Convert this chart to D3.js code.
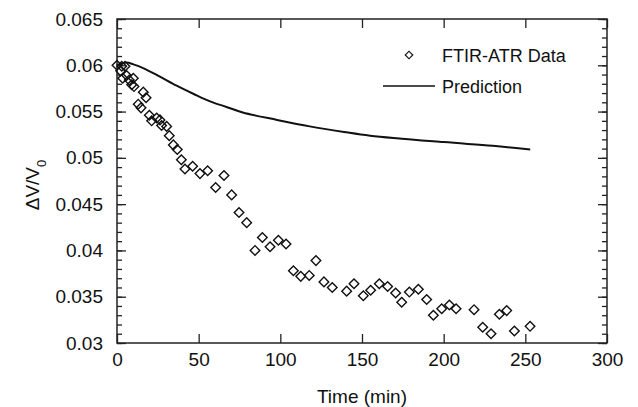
<!DOCTYPE html>
<html>
<head>
<meta charset="utf-8">
<script src="https://cdn.jsdelivr.net/npm/d3@7"></script>
<style>
  body { margin: 0; background: #fff; }
  text { font-family: "Liberation Sans", Arial, sans-serif; fill: #111; }
</style>
</head>
<body>
<div id="chart"></div>
<script>
// FTIR-ATR measurements (time in min, dV/V0)
var dataTime = [0, 2.9, 4.9, 2.2, 3.5, 5.9, 7.5, 10, 9, 10.4, 16.1, 17.8, 13, 14.7, 19.8, 21.2,
  24.3, 26.3, 27.3, 30.4, 32, 34.5, 36.9, 39.4, 41.6, 46.3, 50.8, 55.5, 60.4, 65.5, 70.2,
  74.7, 79.4, 84.5, 89, 93.7, 98.8, 103.5, 108, 112.5, 117.7, 121.8, 126.7, 131.8, 140.6,
  145.1, 150.8, 155.3, 160.6, 165.7, 170.6, 174.3, 179, 184.5, 189.6, 193.7, 198.8, 203.5,
  207.6, 218.6, 223.9, 229, 234.1, 238.6, 243.3, 252.9];
var dataValue = [0.0600, 0.0599, 0.0599, 0.0594, 0.0586, 0.0589, 0.0584, 0.0586, 0.0579, 0.0577,
  0.0571, 0.0565, 0.0558, 0.0554, 0.0546, 0.0540, 0.0543, 0.0541, 0.0535, 0.0534, 0.0524,
  0.0514, 0.0509, 0.0498, 0.0488, 0.0491, 0.0483, 0.0486, 0.0468, 0.0481, 0.0460, 0.0441,
  0.0430, 0.0400, 0.0414, 0.0404, 0.0411, 0.0407, 0.0378, 0.0372, 0.0373, 0.0389, 0.0366,
  0.0360, 0.0356, 0.0364, 0.0351, 0.0357, 0.0364, 0.0361, 0.0354, 0.0344, 0.0355, 0.0358,
  0.0347, 0.0330, 0.0337, 0.0341, 0.0337, 0.0336, 0.0317, 0.0310, 0.0331, 0.0335, 0.0313,
  0.0318];

// model prediction
var predTime = [0, 3, 6, 10, 16, 26, 36.5, 47, 57, 67, 77, 98, 118, 139, 155, 200, 230, 253];
var predValue = [0.0600, 0.0602, 0.0603, 0.0601, 0.0597, 0.0588, 0.0578, 0.0569, 0.0561, 0.0555,
  0.0549, 0.0541, 0.0534, 0.0528, 0.0524, 0.0517, 0.0513, 0.0509];

var xTicks = [0, 50, 100, 150, 200, 250, 300];
var yTicks = [0.03, 0.035, 0.04, 0.045, 0.05, 0.055, 0.06, 0.065];
var yMinorTicks = d3.range(30, 66).map(d => d / 1000);

var svgWidth = 638;
var svgHeight = 407;
var margin = { top: 19, right: 31, bottom: 64, left: 117 };
var width = svgWidth - margin.left - margin.right;
var height = svgHeight - margin.top - margin.bottom;

var svg = d3.select("#chart")
  .append("svg")
  .attr("width", svgWidth)
  .attr("height", svgHeight);

var chartGroup = svg.append("g")
  .attr("transform", `translate(${margin.left}, ${margin.top})`);

var xScale = d3.scaleLinear().domain([0, 300]).range([0, width]);
var yScale = d3.scaleLinear().domain([0.03, 0.065]).range([height, 0]);

var axisColor = "#222";

// frame
chartGroup.append("rect")
  .attr("width", width)
  .attr("height", height)
  .attr("fill", "none")
  .attr("stroke", axisColor)
  .attr("stroke-width", 1.5);

// bottom axis, ticks pointing in
var bottomAxis = d3.axisBottom(xScale).tickValues(xTicks).tickSize(-9).tickPadding(9)
  .tickFormat(d3.format("d"));
var xAxisG = chartGroup.append("g")
  .attr("transform", `translate(0, ${height})`)
  .call(bottomAxis);

// top mirror ticks
chartGroup.append("g")
  .call(d3.axisTop(xScale).tickValues(xTicks).tickSize(-9).tickFormat(""));

// left axis
var leftAxis = d3.axisLeft(yScale).tickValues(yTicks).tickSize(-9).tickPadding(14)
  .tickFormat(d => d3.format("")(+d.toFixed(3)));
var yAxisG = chartGroup.append("g").call(leftAxis);
chartGroup.append("g")
  .call(d3.axisLeft(yScale).tickValues(yMinorTicks).tickSize(-5).tickFormat(""));

// right mirror ticks
chartGroup.append("g")
  .attr("transform", `translate(${width}, 0)`)
  .call(d3.axisRight(yScale).tickValues(yTicks).tickSize(-9).tickFormat(""));
chartGroup.append("g")
  .attr("transform", `translate(${width}, 0)`)
  .call(d3.axisRight(yScale).tickValues(yMinorTicks).tickSize(-5).tickFormat(""));

chartGroup.selectAll(".domain").remove();
chartGroup.selectAll(".tick line").attr("stroke", axisColor).attr("stroke-width", 1.3);
chartGroup.selectAll(".tick text")
  .attr("font-size", 19)
  .attr("fill", "#111")
  .style("font-family", "'Liberation Sans', Arial, sans-serif");
xAxisG.selectAll(".tick text").attr("dy", "0.75em");

// prediction line
var line = d3.line()
  .x((d, i) => xScale(predTime[i]))
  .y((d, i) => yScale(predValue[i]))
  .curve(d3.curveCatmullRom);

chartGroup.append("path")
  .datum(predValue)
  .attr("d", line)
  .attr("fill", "none")
  .attr("stroke", "#111")
  .attr("stroke-width", 2);

// data markers (open diamonds)
var diamond = d3.symbol().type(d3.symbolSquare).size(46);

chartGroup.selectAll(".pt")
  .data(dataValue)
  .enter()
  .append("path")
  .attr("class", "pt")
  .attr("d", diamond)
  .attr("transform", (d, i) => `translate(${xScale(dataTime[i])}, ${yScale(d)}) rotate(45)`)
  .attr("fill", "none")
  .attr("stroke", "#111")
  .attr("stroke-width", 1.4);

// legend
var legend = chartGroup.append("g");
legend.append("path")
  .attr("d", d3.symbol().type(d3.symbolSquare).size(28))
  .attr("transform", "translate(292, 36) rotate(45)")
  .attr("fill", "none")
  .attr("stroke", "#111")
  .attr("stroke-width", 1.2);
legend.append("text")
  .attr("x", 325)
  .attr("y", 43)
  .attr("font-size", 18)
  .text("FTIR-ATR Data");
legend.append("line")
  .attr("x1", 266).attr("x2", 318)
  .attr("y1", 67).attr("y2", 67)
  .attr("stroke", "#111")
  .attr("stroke-width", 1.5);
legend.append("text")
  .attr("x", 325)
  .attr("y", 74)
  .attr("font-size", 18)
  .text("Prediction");

// axis labels
chartGroup.append("text")
  .attr("x", width / 2)
  .attr("y", height + 60)
  .attr("text-anchor", "middle")
  .attr("font-size", 19)
  .text("Time (min)");

var yLabel = svg.append("text")
  .attr("transform", `translate(39, ${margin.top + height / 2 + 4}) rotate(-90)`)
  .attr("text-anchor", "middle")
  .attr("font-size", 19);
yLabel.append("tspan").text("\u0394V/V");
yLabel.append("tspan").attr("font-size", 13).attr("dy", 7).text("0");
</script>
</body>
</html>
